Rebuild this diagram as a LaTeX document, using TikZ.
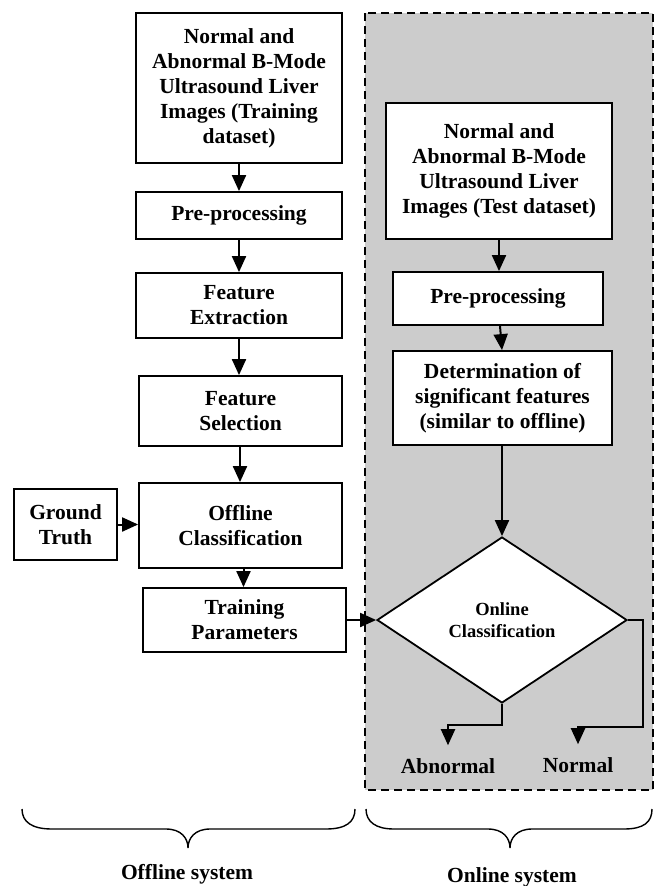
\documentclass[tikz,border=0pt]{standalone}
\usepackage{fontspec}
\setmainfont{Liberation Serif}
\usetikzlibrary{shapes.geometric,arrows.meta}
\definecolor{panelgray}{RGB}{204,204,204}
\begin{document}
\begin{tikzpicture}[x=1pt,y=-1pt,
  box/.style={draw,line width=1.8pt,fill=white,inner sep=0pt,align=center,
    font=\fontsize{21.5}{25}\selectfont\bfseries},
  decision/.style={diamond,draw,line width=1.8pt,fill=white,inner sep=0pt,align=center,
    minimum width=250pt,minimum height=166pt,font=\fontsize{18.5}{22}\selectfont\bfseries},
  outcome/.style={inner xsep=0pt,inner ysep=13pt,font=\fontsize{21.5}{25}\selectfont\bfseries},
  syslabel/.style={inner sep=0pt,font=\fontsize{21.5}{25}\selectfont\bfseries},
  arr/.style={line width=2pt,-{Triangle[length=16pt,width=14pt]}},
  bracestyle/.style={line width=1.4pt},
  panel/.style={fill=panelgray,draw,dash pattern=on 8pt off 5pt,line width=1.8pt}
]
\useasboundingbox (0,0) rectangle (657,886);
\fill[white] (0,0) rectangle (657,886);
% online panel
\draw[panel] (365,13) rectangle (653,790);

% offline column
\node[box,minimum width=206pt,minimum height=150pt] (b1) at (239,88)
  {Normal and\\Abnormal B-Mode\\Ultrasound Liver\\Images (Training\\dataset)};
\node[box,minimum width=206pt,minimum height=47pt] (b2) at (239,215.5) {Pre-processing};
\node[box,minimum width=206pt,minimum height=65pt] (b3) at (239,305.5) {Feature\\Extraction};
\node[box,minimum width=203pt,minimum height=70pt] (b4) at (240.5,411) {Feature\\Selection};
\node[box,minimum width=203pt,minimum height=85pt] (b5) at (240.5,525.5) {Offline\\Classification};
\node[box,minimum width=103pt,minimum height=71pt] (gt) at (65.5,524.5) {Ground\\Truth};
\node[box,minimum width=203pt,minimum height=64pt] (b6) at (244.5,620) {Training\\Parameters};

% online column
\node[box,minimum width=226pt,minimum height=136pt] (r1) at (499,171)
  {Normal and\\Abnormal B-Mode\\Ultrasound Liver\\Images (Test dataset)};
\node[box,minimum width=210pt,minimum height=53pt] (r2) at (498,298.5) {Pre-processing};
\node[box,minimum width=219pt,minimum height=94pt] (r3) at (502.5,398)
  {Determination of\\significant features\\(similar to offline)};
\node[decision] (dia) at (502,620) {Online\\Classification};

\node[outcome] (abn) at (448,766) {Abnormal};
\node[outcome] (nor) at (578,765) {Normal};

% connectors offline
\draw[arr] (b1.south) -- (b1.south |- b2.north);
\draw[arr] (b2.south) -- (b2.south |- b3.north);
\draw[arr] (b3.south) -- (b3.south |- b4.north);
\draw[arr] ([xshift=-0.5pt]b4.south) -- ([xshift=-0.5pt]b4.south |- b5.north);
\draw[arr] (gt.east) -- (gt.east -| b5.west);
\draw[arr] ([xshift=3pt]b5.south) -- ([xshift=3pt]b5.south |- b6.north);
\draw[arr] (b6.east) -- (dia.west);

% connectors online
\draw[arr] (r1.south) -- (r1.south |- r2.north);
\draw[arr] ([xshift=2pt]r2.south) -- ([xshift=4pt]r2.south |- r3.north);
\draw[arr] (r3.south -| dia.north) -- (dia.north);
\draw[arr] (dia.south) -- (dia.south |- 0,725) -| (abn.north);
\draw[arr] (dia.east) -| (643,727) -| (nor.north);

% braces
\draw[bracestyle] (22,809) .. controls (22,822) and (32,829) .. (52,829) -- (166,829)
  .. controls (181,829) and (188,838) .. (188,848)
  .. controls (188,838) and (195,829) .. (210,829) -- (326,829)
  .. controls (346,829) and (355,822) .. (355,809);
\draw[bracestyle] (366,809) .. controls (366,822) and (376,829) .. (394,829) -- (488,829)
  .. controls (503,829) and (510,838) .. (510,848)
  .. controls (510,838) and (517,829) .. (532,829) -- (624,829)
  .. controls (644,829) and (652,822) .. (652,809);

\node[syslabel] (offl) at (187,874) {Offline system};
\node[syslabel] (onl) at (512,877) {Online system};
\end{tikzpicture}
\end{document}
